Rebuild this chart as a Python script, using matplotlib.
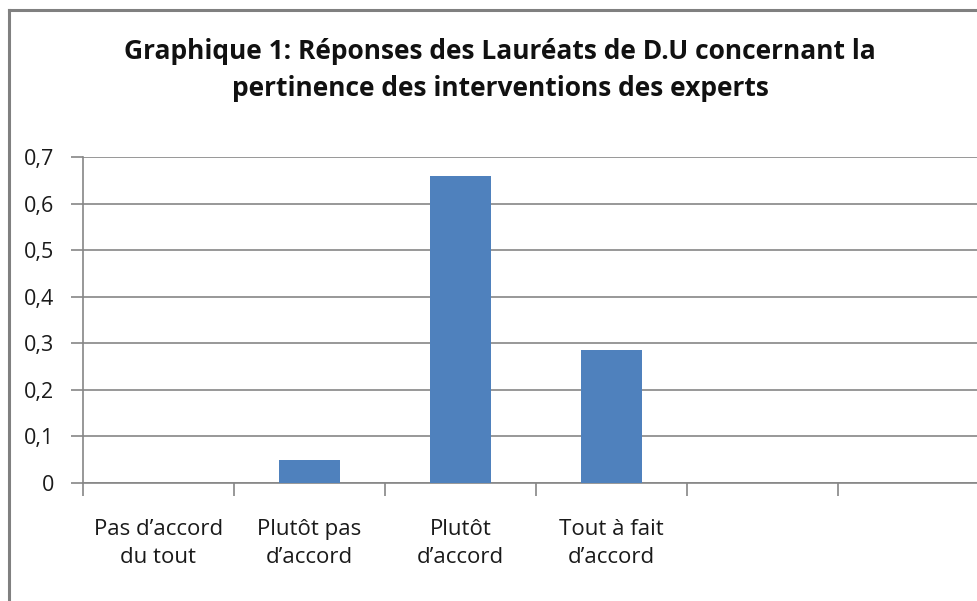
import matplotlib
matplotlib.use("Agg")
import matplotlib.pyplot as plt
from matplotlib.lines import Line2D
from matplotlib.ticker import FixedLocator

categories = ["Pas d\u2019accord\ndu tout", "Plut\u00f4t pas\nd\u2019accord", "Plut\u00f4t\nd\u2019accord",
              "Tout \u00e0 fait\nd\u2019accord", "", ""]
values = [0, 0.05, 0.66, 0.285, 0, 0]
yticks = [0, 0.1, 0.2, 0.3, 0.4, 0.5, 0.6, 0.7]
ytick_labels = ["0", "0,1", "0,2", "0,3", "0,4", "0,5", "0,6", "0,7"]
title = "Graphique 1: R\u00e9ponses des Laur\u00e9ats de D.U concernant la\npertinence des interventions des experts"

plt.rcParams['font.family'] = ['Open Sans', 'DejaVu Sans']
W, H = 978, 601
fig = plt.figure(figsize=(W / 100, H / 100), dpi=100)
ax = fig.add_axes([83 / W, (H - 483) / H, (989 - 83) / W, (483 - 157) / H])

grey = "#868686"
x = list(range(len(categories)))
ax.bar(x, values, width=0.4, color="#4F81BD", zorder=3)
ax.set_xlim(-0.5, len(categories) - 0.5)
ax.set_ylim(0, 0.7)
ax.set_yticks(yticks)
ax.set_yticklabels(ytick_labels, fontsize=15.5, color="#1a1a1a")
ax.yaxis.grid(True, color=grey, linewidth=1.2, zorder=0)
ax.set_axisbelow(True)

ax.set_xticks([i - 0.5 for i in range(len(categories) + 1)])
ax.set_xticklabels([])
ax.xaxis.set_minor_locator(FixedLocator(x))
ax.set_xticklabels(categories, minor=True, fontsize=16, color="#1a1a1a", linespacing=1.45)
ax.tick_params(axis='x', which='minor', length=0, pad=26)
ax.tick_params(axis='x', which='major', length=9, width=1.2, color=grey, direction='out')
ax.tick_params(axis='y', length=9, width=1.2, color=grey, direction='out', pad=12)

for s in ['top', 'right']:
    ax.spines[s].set_visible(False)
for s in ['left', 'bottom']:
    ax.spines[s].set_color(grey)
    ax.spines[s].set_linewidth(1.2)

fig.text(500 / W, 1 - 70 / H, title, ha='center', va='center', fontsize=19,
         fontweight='bold', color="#111111", linespacing=1.5)

border = "#808080"
fig.add_artist(Line2D([9 / W, 9 / W], [0, 1 - 9.5 / H], color=border, linewidth=2.2, transform=fig.transFigure))
fig.add_artist(Line2D([9 / W, 1], [1 - 9.5 / H, 1 - 9.5 / H], color=border, linewidth=2.2, transform=fig.transFigure))

fig.savefig("out.png", dpi=100, facecolor="white")
